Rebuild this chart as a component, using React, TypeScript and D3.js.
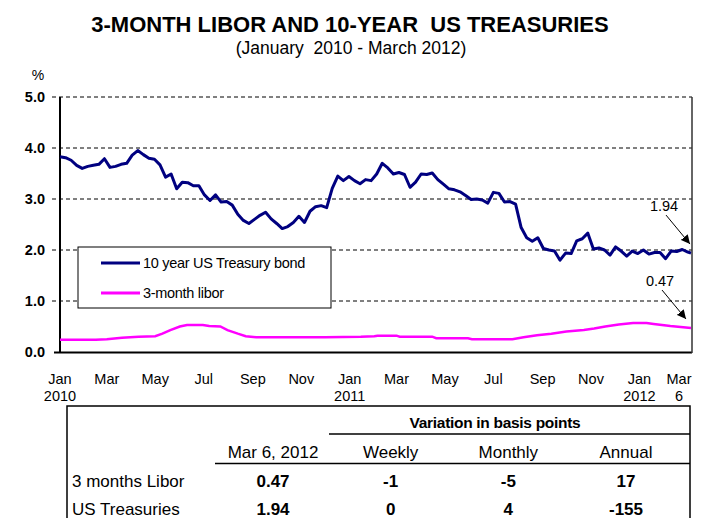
import * as d3 from "d3";

// 10-year treasury, weekly closes from the first week of Jan 2010
const tsyStart = "2010-01-01";
const tsyWeekly = [
  3.83, 3.81, 3.76, 3.66, 3.6, 3.64, 3.66, 3.68, 3.79, 3.62, 3.64, 3.68, 3.7, 3.86, 3.95, 3.87,
  3.8, 3.78, 3.67, 3.43, 3.49, 3.2, 3.33, 3.32, 3.26, 3.26, 3.08, 2.97, 3.08, 2.94, 2.95, 2.88,
  2.7, 2.58, 2.52, 2.6, 2.68, 2.74, 2.61, 2.52, 2.42, 2.46, 2.54, 2.66, 2.54, 2.76, 2.85, 2.87,
  2.83, 3.21, 3.45, 3.36, 3.44, 3.36, 3.3, 3.38, 3.36, 3.49, 3.7, 3.61, 3.49, 3.52, 3.48, 3.23,
  3.33, 3.49, 3.48, 3.51, 3.38, 3.29, 3.2, 3.18, 3.14, 3.07, 2.99, 3.0, 2.98, 2.92, 3.13, 3.11,
  2.94, 2.95, 2.9, 2.44, 2.24, 2.17, 2.24, 2.03, 2.0, 1.98, 1.8, 1.94, 1.93, 2.18, 2.22, 2.33,
  2.02, 2.04, 2.0, 1.9, 2.06, 1.98, 1.88, 1.98, 1.93, 2.0, 1.92, 1.95, 1.95, 1.83, 1.98, 1.97,
  2.01, 1.96,
];
const tsyLastDate = "2012-03-06";
const tsyLast = 1.94;

// 3-month libor
const liborDates = [
  "2010-01-01", "2010-02-15", "2010-03-01", "2010-03-20", "2010-04-10", "2010-05-01", "2010-05-10",
  "2010-05-20", "2010-06-01", "2010-06-10", "2010-06-30", "2010-07-08", "2010-07-22", "2010-07-31",
  "2010-08-13", "2010-08-23", "2010-09-05", "2010-12-01", "2011-01-15", "2011-02-01", "2011-02-05",
  "2011-03-01", "2011-03-05", "2011-04-15", "2011-04-20", "2011-05-30", "2011-06-04", "2011-07-25",
  "2011-08-08", "2011-08-25", "2011-09-12", "2011-10-01", "2011-10-23", "2011-11-05", "2011-11-19",
  "2011-12-06", "2011-12-24", "2012-01-10", "2012-01-19", "2012-02-09", "2012-02-22", "2012-03-06",
];
const liborValues = [
  0.24, 0.24, 0.25, 0.28, 0.3, 0.31, 0.36, 0.43, 0.5, 0.53, 0.53, 0.51, 0.5, 0.43, 0.36, 0.31, 0.29,
  0.29, 0.3, 0.31, 0.32, 0.32, 0.3, 0.3, 0.27, 0.27, 0.25, 0.25, 0.29, 0.33, 0.36, 0.4, 0.43, 0.46,
  0.5, 0.54, 0.57, 0.57, 0.55, 0.51, 0.49, 0.47,
];

const yTicks = [0, 1, 2, 3, 4, 5];
const monthTicks = [
  "2010-01-01", "2010-03-01", "2010-05-01", "2010-07-01", "2010-09-01", "2010-11-01", "2011-01-01",
  "2011-03-01", "2011-05-01", "2011-07-01", "2011-09-01", "2011-11-01", "2012-01-01", "2012-03-01",
];
const monthLabels = ["Jan", "Mar", "May", "Jul", "Sep", "Nov", "Jan", "Mar", "May", "Jul", "Sep", "Nov", "Jan", "Mar"];
const yearLabels = ["2010", "", "", "", "", "", "2011", "", "", "", "", "", "2012", "6"];

const seriesNames = ["10 year US Treasury bond", "3-month libor"];
const seriesColors = ["#000080", "#ff00ff"];

const tableCols = ["Mar 6, 2012", "Weekly", "Monthly", "Annual"];
const tableRowNames = ["3 months Libor", "US Treasuries"];
const tableValues = [
  ["0.47", "-1", "-5", "17"],
  ["1.94", "0", "4", "-155"],
];

const W = 701;
const H = 518;
const FONT = "'Liberation Sans', Arial, sans-serif";

export default function App() {
  const parse = d3.utcParse("%Y-%m-%d");
  const start = parse(tsyStart)!;

  const tsy = tsyWeekly.map((v, i) => ({ date: d3.utcDay.offset(start, i * 7), value: v }));
  tsy.push({ date: parse(tsyLastDate)!, value: tsyLast });
  const libor = liborDates.map((d, i) => ({ date: parse(d)!, value: liborValues[i] }));

  const x = d3.scaleUtc().domain([start, parse(tsyLastDate)!]).range([60, 691]);
  const y = d3.scaleLinear().domain([0, 5]).range([352, 97]);

  const line = d3
    .line<{ date: Date; value: number }>()
    .x((d) => x(d.date))
    .y((d) => y(d.value));

  const lastT = tsy[tsy.length - 1];
  const lastL = libor[libor.length - 1];
  const notes = [
    { label: tsyLast.toFixed(2), px: x(lastT.date), py: y(lastT.value) },
    { label: lastL.value.toFixed(2), px: x(lastL.date) - 4, py: y(lastL.value) },
  ];

  // table column centres
  const colX = d3.scalePoint<string>().domain(tableCols).range([273, 626]);

  return (
    <svg
      width={W}
      height={H}
      style={{ position: "absolute", left: 0, top: 0, background: "#fff" }}
      fontFamily={FONT}
    >
      <defs>
        <marker id="arr" viewBox="0 0 10 10" refX="10" refY="5" markerWidth="9" markerHeight="9" orient="auto">
          <path d="M0,0 L10,5 L0,10 z" fill="#000" />
        </marker>
      </defs>

      <text x={350} y={32} textAnchor="middle" fontSize={22} fontWeight="bold" style={{ whiteSpace: "pre" }}>
        3-MONTH LIBOR AND 10-YEAR  US TREASURIES
      </text>
      <text x={351} y={54} textAnchor="middle" fontSize={17.5} style={{ whiteSpace: "pre" }}>
        (January  2010 - March 2012)
      </text>
      <text x={38} y={80} textAnchor="middle" fontSize={14}>
        %
      </text>

      {/* grid */}
      {yTicks.slice(1).map((t) => (
        <line key={t} x1={52} x2={692} y1={y(t)} y2={y(t)} stroke="#000" strokeWidth={1} strokeDasharray="4,3" />
      ))}
      {yTicks.map((t) => (
        <text key={t} x={45} y={y(t) + 5} textAnchor="end" fontSize={14.5} fontWeight="bold">
          {t.toFixed(1)}
        </text>
      ))}

      {/* frame */}
      <line x1={60} x2={60} y1={97} y2={353} stroke="#000" strokeWidth={2} />
      <line x1={54} x2={692} y1={352.5} y2={352.5} stroke="#000" strokeWidth={2} />
      <line x1={692} x2={692} y1={97} y2={353} stroke="#333" strokeWidth={1.5} />

      {/* x labels */}
      {monthTicks.map((m, i) => {
        const px = Math.min(x(parse(m)!), 679);
        return (
          <g key={m} fontSize={14.5}>
            <text x={px} y={384} textAnchor="middle">
              {monthLabels[i]}
            </text>
            {yearLabels[i] && (
              <text x={px} y={401} textAnchor="middle">
                {yearLabels[i]}
              </text>
            )}
          </g>
        );
      })}

      <path d={line(libor)!} fill="none" stroke={seriesColors[1]} strokeWidth={2.5} />
      <path d={line(tsy)!} fill="none" stroke={seriesColors[0]} strokeWidth={3} strokeLinejoin="round" />

      {/* legend */}
      <rect x={78} y={247} width={253} height={61} fill="#fff" stroke="#000" strokeWidth={1} />
      {seriesNames.map((n, i) => (
        <g key={n}>
          <line x1={101} x2={140} y1={263 + i * 30} y2={263 + i * 30} stroke={seriesColors[i]} strokeWidth={2.8} />
          <text x={143} y={268 + i * 30} fontSize={14.5} letterSpacing={-0.3}>
            {n}
          </text>
        </g>
      ))}

      {/* end-value callouts */}
      {notes.map((n) => (
        <g key={n.label}>
          <text x={n.px - 27} y={n.py - 42} textAnchor="middle" fontSize={14.5}>
            {n.label}
          </text>
          <line
            x1={n.px - 25}
            y1={n.py - 38}
            x2={n.px - 1}
            y2={n.py - 9}
            stroke="#000"
            strokeWidth={1}
            markerEnd="url(#arr)"
          />
        </g>
      ))}

      {/* table */}
      <g fontSize={17}>
        <rect x={67} y={406} width={623} height={130} fill="none" stroke="#000" strokeWidth={1.5} />
        <text x={495} y={428} textAnchor="middle" fontWeight="bold" fontSize={15.5} letterSpacing={-0.3}>
          Variation in basis points
        </text>
        <line x1={329} x2={690} y1={434} y2={434} stroke="#000" strokeWidth={1.5} />
        {tableCols.map((c) => (
          <text key={c} x={colX(c)} y={458} textAnchor="middle">
            {c}
          </text>
        ))}
        <line x1={215} x2={690} y1={463.5} y2={463.5} stroke="#000" strokeWidth={1.5} />
        {tableRowNames.map((r, i) => (
          <g key={r}>
            <text x={72} y={487 + i * 28}>
              {r}
            </text>
            {tableValues[i].map((v, j) => (
              <text key={j} x={colX(tableCols[j])} y={487 + i * 28} textAnchor="middle" fontWeight="bold">
                {v}
              </text>
            ))}
          </g>
        ))}
      </g>
    </svg>
  );
}
